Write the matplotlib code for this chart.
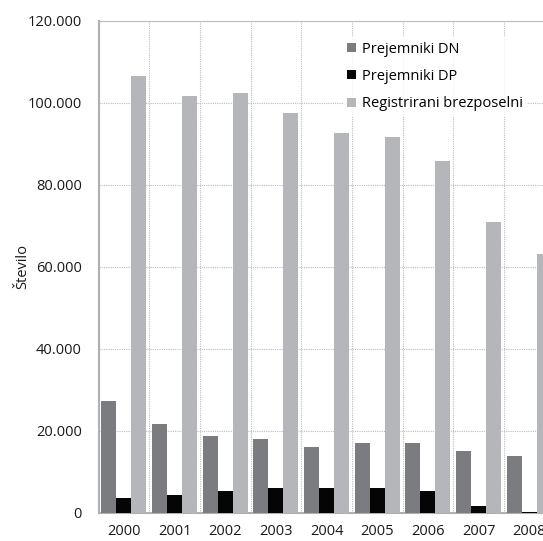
import numpy as np
import matplotlib
matplotlib.use("Agg")
import matplotlib.pyplot as plt
from matplotlib.ticker import FuncFormatter, MultipleLocator

plt.rcParams['font.family'] = ['Open Sans', 'DejaVu Sans']

years = ['2000', '2001', '2002', '2003', '2004', '2005', '2006', '2007', '2008']
prejemniki_dn = [27400, 21600, 18800, 18100, 16100, 17100, 17100, 15000, 14000]
prejemniki_dp = [3700, 4400, 5400, 6100, 6100, 6100, 5400, 1600, 200]
registrirani = [106600, 101700, 102400, 97600, 92700, 91700, 85900, 71000, 63200]

c_dn = '#7b7c80'
c_dp = '#050505'
c_reg = '#b5b6ba'
grid_c = '#bdbdbd'

fig = plt.figure(figsize=(5.43, 5.41), dpi=100)
ax = fig.add_axes([0.1814, 0.0518, 0.840, 0.9094])

x = np.arange(len(years))
w = 0.296
ax.bar(x - w, prejemniki_dn, w, color=c_dn, label='Prejemniki DN', zorder=3)
ax.bar(x, prejemniki_dp, w, color=c_dp, label='Prejemniki DP', zorder=3)
ax.bar(x + w, registrirani, w, color=c_reg, label='Registrirani brezposelni', zorder=3)

ax.set_xlim(-0.5, len(years) - 0.5)
ax.set_ylim(0, 120000)
ax.yaxis.set_major_locator(MultipleLocator(20000))
ax.yaxis.set_major_formatter(FuncFormatter(lambda v, p: f'{int(v):,}'.replace(',', '.')))
ax.set_xticks(x)
ax.set_xticklabels(years)
ax.set_xticks(x[:-1] + 0.5, minor=True)

ax.grid(axis='y', which='major', linestyle=(0, (1, 1)), color=grid_c, linewidth=0.8, zorder=0)
ax.grid(axis='x', which='minor', linestyle=(0, (1, 1)), color=grid_c, linewidth=0.8, zorder=0)
ax.tick_params(axis='both', which='both', length=0, labelsize=10.5, colors='#1a1a1a')
ax.tick_params(axis='y', pad=12)
ax.tick_params(axis='x', pad=8)

ax.spines['right'].set_visible(False)
ax.spines['top'].set_linestyle((0, (1, 1)))
ax.spines['top'].set_color(grid_c)
ax.spines['top'].set_linewidth(0.8)
ax.spines['left'].set_color('#b0b0b4')
ax.spines['left'].set_linewidth(1.5)
ax.spines['bottom'].set_color('#b0b0b4')
ax.spines['bottom'].set_linewidth(1.5)

ax.set_ylabel('Število', fontsize=10.5, color='#1a1a1a')
ax.yaxis.set_label_coords(-0.150, 0.5)

leg = ax.legend(loc='upper left', bbox_to_anchor=(0.520, 0.982), frameon=True,
                fontsize=10.5, handlelength=0.6, handleheight=0.6, handletextpad=0.4,
                labelspacing=0.85, borderpad=0.3, fancybox=False)
leg.get_frame().set_facecolor('white')
leg.get_frame().set_edgecolor('none')
leg.set_zorder(5)

fig.savefig('out.png', dpi=100)
